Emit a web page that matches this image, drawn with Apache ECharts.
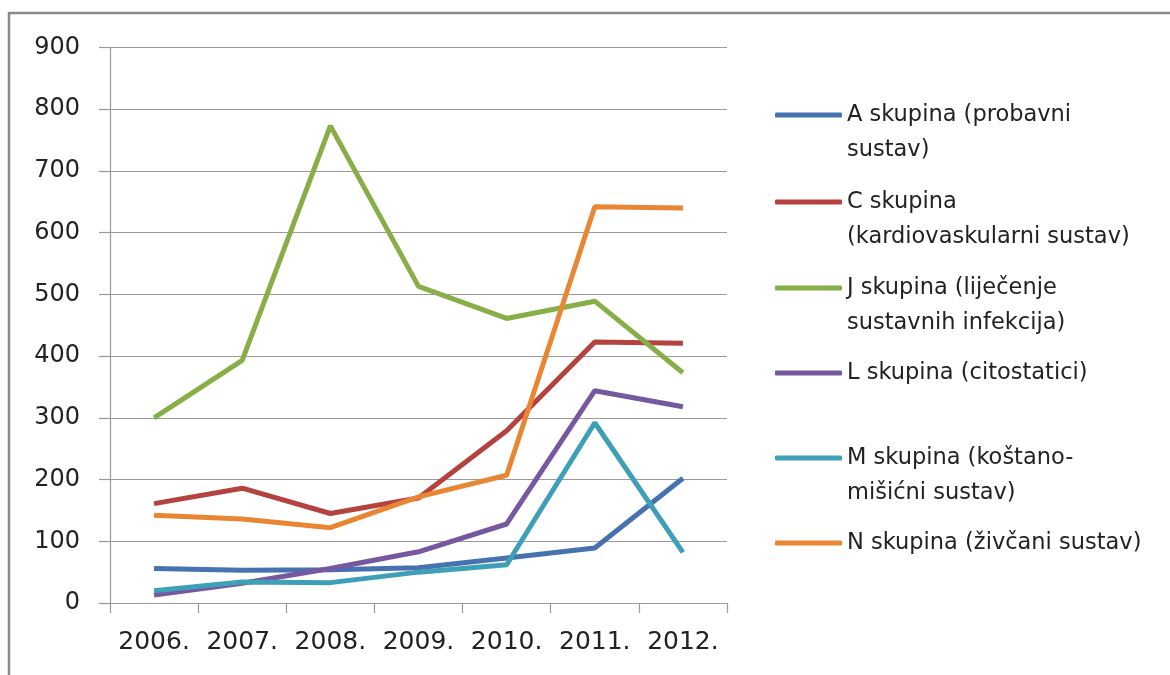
<!DOCTYPE html>
<html>
<head>
<meta charset="utf-8">
<script src="https://cdn.jsdelivr.net/npm/echarts@6/dist/echarts.min.js"></script>
<style>
  html, body { margin: 0; padding: 0; background: #fff; }
  #chart { width: 1170px; height: 675px; }
</style>
</head>
<body>
<div id="chart"></div>
<script>
// Years on the category axis
const years = ['2006.', '2007.', '2008.', '2009.', '2010.', '2011.', '2012.'];

// Series names (ATC groups)
const nameA = 'A skupina (probavni\nsustav)';
const nameC = 'C skupina\n(kardiovaskularni sustav)';
const nameJ = 'J skupina (liječenje\nsustavnih infekcija)';
const nameL = 'L skupina (citostatici)';
const nameM = 'M skupina (koštano-\nmišićni sustav)';
const nameN = 'N skupina (živčani sustav)';

// Values per group and year
const valuesA = [56, 53, 54, 57, 73, 89, 202];
const valuesC = [161, 186, 145, 170, 279, 423, 421];
const valuesJ = [300, 393, 773, 513, 461, 489, 373];
const valuesL = [13, 32, 56, 83, 128, 344, 318];
const valuesM = [20, 34, 33, 50, 62, 292, 82];
const valuesN = [142, 136, 122, 172, 207, 642, 640];

// Y axis scale
const yMin = 0;
const yMax = 900;
const yStep = 100;

const groups = [
  { name: nameA, data: valuesA, color: '#4672B0' },
  { name: nameC, data: valuesC, color: '#B4423F' },
  { name: nameJ, data: valuesJ, color: '#88AE47' },
  { name: nameL, data: valuesL, color: '#7658A0' },
  { name: nameM, data: valuesM, color: '#3E9FB8' },
  { name: nameN, data: valuesN, color: '#E98633' }
];

const textColor = '#222';
const fontFamily = '"DejaVu Sans", Verdana, sans-serif';
const gridColor = '#9a9a9a';

// One legend block per group, stacked down the right side.
// Two-line names get an empty leading line so the swatch sits beside the first line.
const legendCenters = [115, 202, 288, 373, 458, 543];
const lineHeight = 35;
const legends = groups.map((g, i) => {
  const lines = g.name.split('\n').length;
  const shown = lines > 1 ? 2 * lines - 1 : 1;
  const blockH = shown * lineHeight;
  return {
    data: [g.name],
    left: 775,
    top: legendCenters[i] - blockH / 2,
    orient: 'vertical',
    icon: 'roundRect',
    itemWidth: 67,
    itemHeight: 5,
    padding: 0,
    selectedMode: false,
    formatter: name => (lines > 1 ? '\n' : '') + name,
    textStyle: {
      color: textColor,
      fontFamily: fontFamily,
      fontSize: 22.5,
      lineHeight: lineHeight
    }
  };
});

const chart = echarts.init(document.getElementById('chart'), null, { renderer: 'canvas' });

chart.setOption({
  backgroundColor: '#fff',
  animation: false,
  graphic: [{
    type: 'rect',
    shape: { x: 9, y: 13, width: 1200, height: 700 },
    style: { fill: 'none', stroke: '#8a8a8a', lineWidth: 2.5 },
    silent: true
  }],
  legend: legends,
  grid: { left: 110, right: 443, top: 47.5, bottom: 72 },
  xAxis: {
    type: 'category',
    data: years,
    boundaryGap: true,
    axisLine: { show: true, lineStyle: { color: gridColor, width: 1.2 } },
    axisTick: { show: true, interval: 0, length: 10, alignWithLabel: false, lineStyle: { color: gridColor, width: 1.2 } },
    axisLabel: { interval: 0, color: textColor, fontFamily: fontFamily, fontSize: 25, margin: 27 },
    splitLine: { show: false }
  },
  yAxis: {
    type: 'value',
    min: yMin,
    max: yMax,
    interval: yStep,
    axisLine: { show: true, lineStyle: { color: gridColor, width: 1.2 } },
    axisTick: { show: true, length: 11, lineStyle: { color: gridColor, width: 1.2 } },
    axisLabel: { color: textColor, fontFamily: fontFamily, fontSize: 24, margin: 30 },
    splitLine: { show: true, lineStyle: { color: gridColor, width: 1.2 } }
  },
  series: groups.map(g => ({
    name: g.name,
    type: 'line',
    data: g.data,
    symbol: 'none',
    color: g.color,
    lineStyle: { width: 5, color: g.color },
    itemStyle: { color: g.color }
  }))
});
</script>
</body>
</html>
